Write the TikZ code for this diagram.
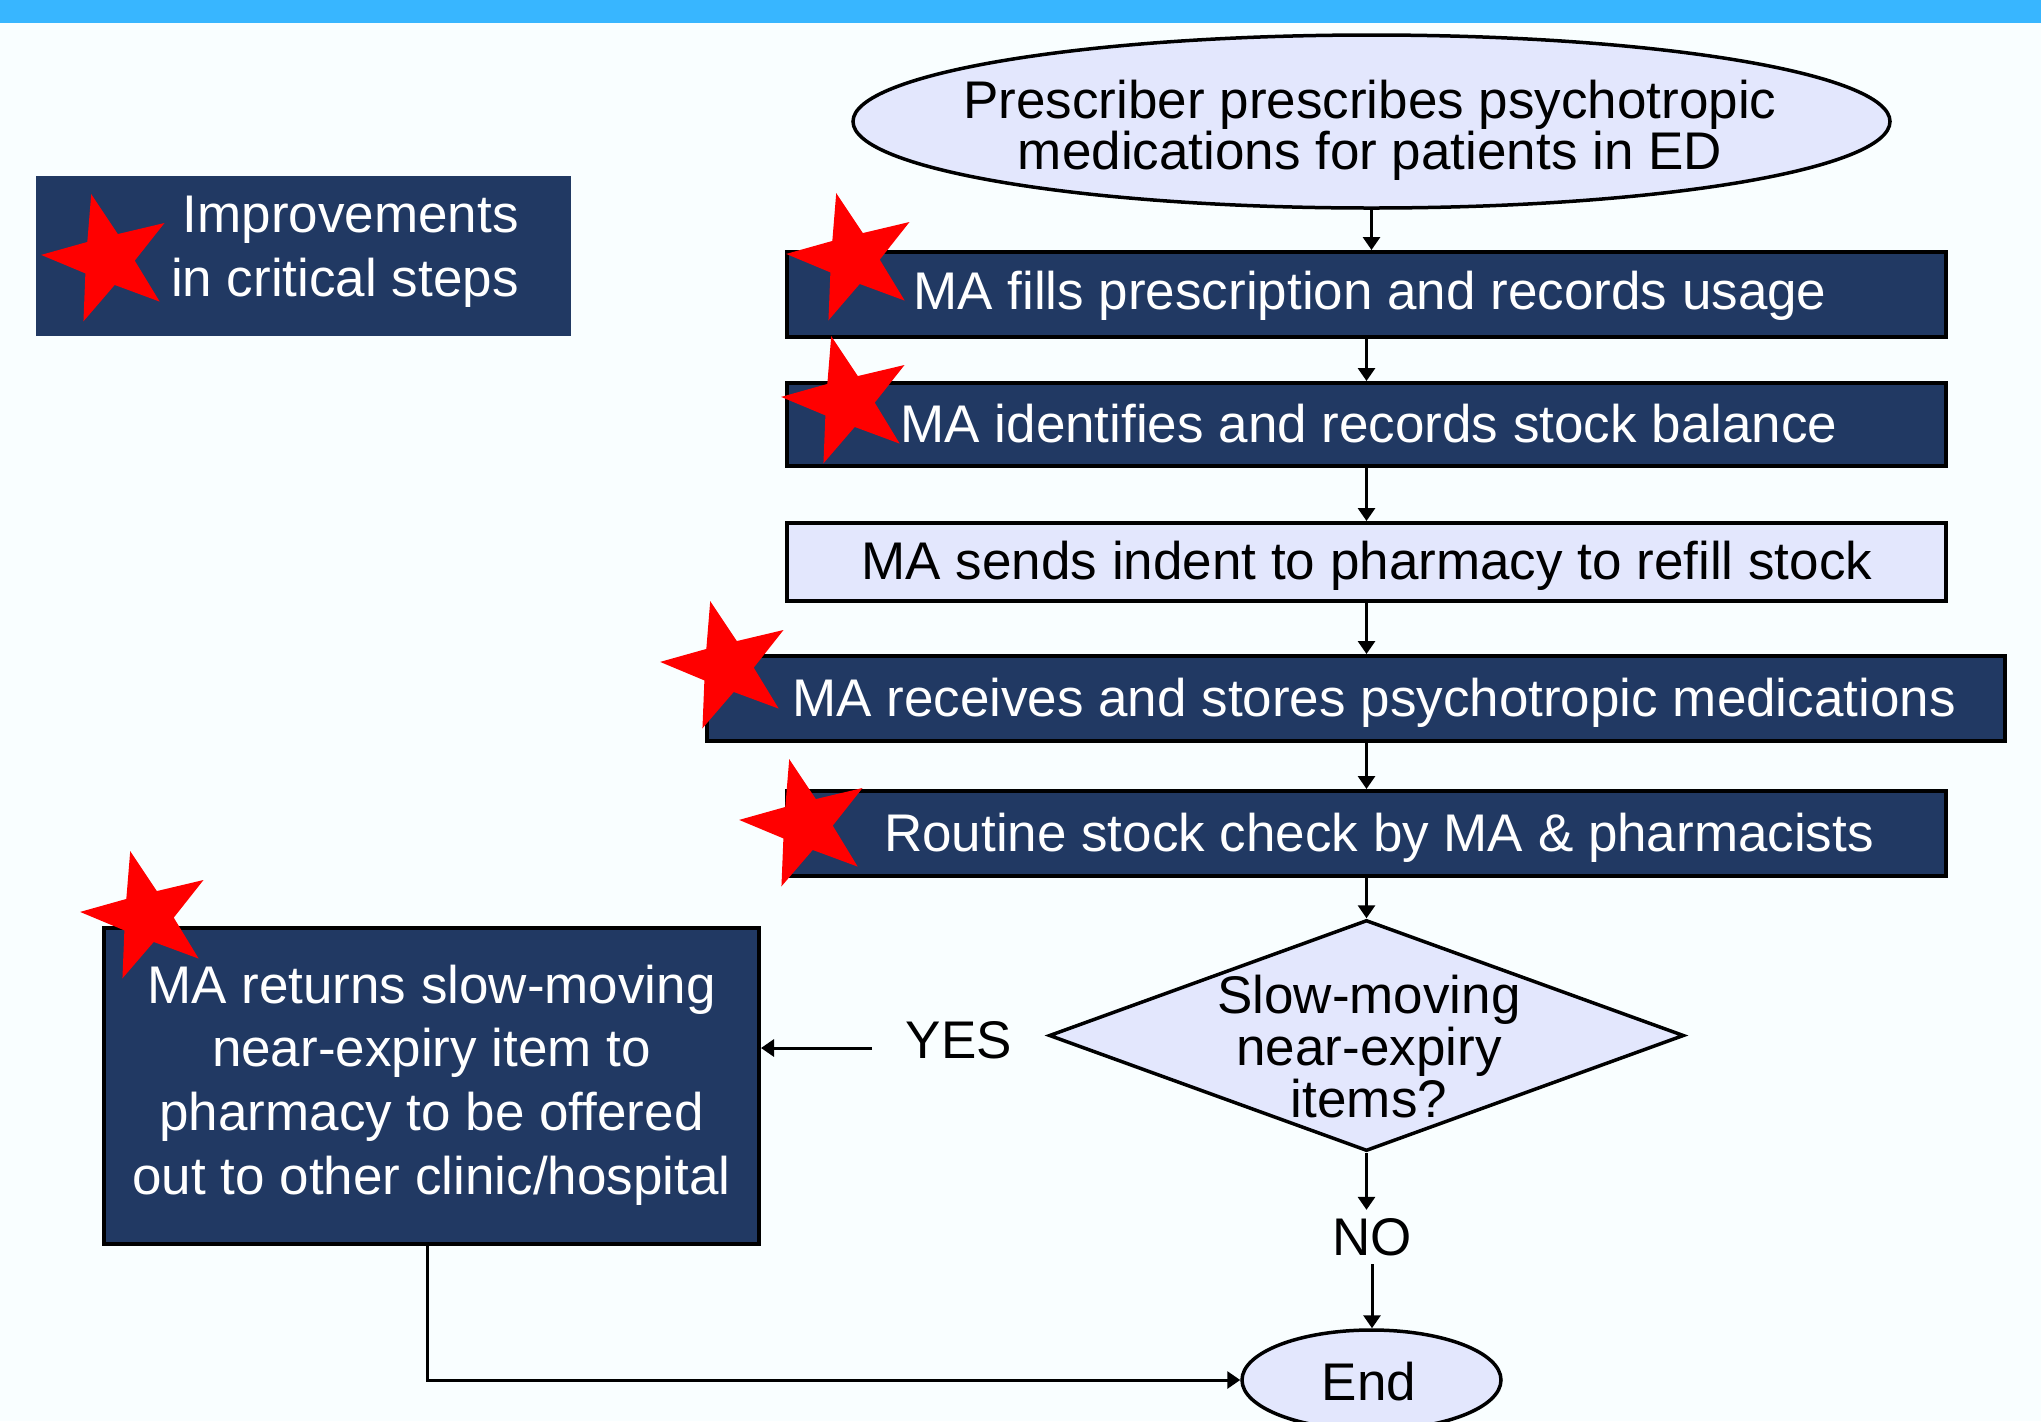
\documentclass[tikz,border=0pt]{standalone}
\usepackage{fontspec}
\setmainfont{Liberation Sans}
\usetikzlibrary{shapes.geometric,arrows.meta}
\definecolor{barblue}{RGB}{56,182,255}
\definecolor{bgc}{RGB}{249,254,255}
\definecolor{navy}{RGB}{33,57,99}
\definecolor{lav}{RGB}{227,231,253}
\begin{document}
\begin{tikzpicture}[x=0.5pt,y=-0.5pt,
  txt/.style={font=\fontsize{26.5}{31.9}\selectfont, align=center, inner sep=0pt},
  darkbox/.style={rectangle, draw=black, line width=2pt, fill=navy, text=white, txt, minimum width=579.5pt, minimum height=42.5pt},
  lightbox/.style={rectangle, draw=black, line width=2pt, fill=lav, txt, minimum width=579.5pt, minimum height=39pt},
  lightshape/.style={draw=black, line width=1.75pt, fill=lav, inner sep=0pt},
  redstar/.style={star, star points=5, star point ratio=2.5, fill=red, draw=none, inner sep=0pt, minimum size=67pt, rotate=14.5},
  arr/.style={-{Triangle[length=6.5pt,width=8.5pt]}, line width=1.5pt}]
\useasboundingbox (0,0) rectangle (2041,1421);
\fill[bgc] (0,0) rectangle (2041,1421);
\fill[barblue] (0,0) rectangle (2041,23);

% legend
\node[rectangle, fill=navy, minimum width=267.5pt, minimum height=80pt, inner sep=0pt] (leg) at (303.5,256) {};
\node[txt, text=white, align=right, anchor=east] (legt) at (519,252) {Improvements\\in critical steps};

% start ellipse
\node[lightshape, ellipse, minimum width=518.5pt, minimum height=86.5pt] (ell) at (1371.5,121.5) {};
\node[txt, font=\fontsize{26.5}{25.4}\selectfont] (ellt) at (1370,130.5) {Prescriber prescribes psychotropic\\medications for patients in ED};

% process boxes
\node[darkbox] (b1) at (1366.5,294.5) {};
\node[txt, text=white] (b1t) at (1370,296) {MA fills prescription and records usage};
\node[darkbox, minimum height=41.5pt] (b2) at (1366.5,424.5) {};
\node[txt, text=white] (b2t) at (1369,423.5) {MA identifies and records stock balance};
\node[lightbox] (b3) at (1366.5,562) {};
\node[txt] (b3t) at (1367,566) {MA sends indent to pharmacy to refill stock};
\node[darkbox, minimum width=649pt] (b4) at (1356,698.5) {};
\node[txt, text=white] (b4t) at (1374,702.5) {MA receives and stores psychotropic medications};
\node[darkbox] (b5) at (1366.5,833.5) {};
\node[txt, text=white] (b5t) at (1379,837.5) {Routine stock check by MA \& pharmacists};

% decision
\node[lightshape, diamond, minimum width=317.5pt, minimum height=115.5pt] (dia) at (1366.5,1035.5) {};
\node[txt, font=\fontsize{26.5}{26}\selectfont] (diat) at (1369,1047) {Slow-moving\\near-expiry\\items?};

% left box
\node[darkbox, minimum width=327.5pt, minimum height=158pt] (lb) at (431.5,1086) {};
\node[txt, text=white] (lbt) at (431.5,1085) {MA returns slow-moving\\near-expiry item to\\pharmacy to be offered\\out to other clinic/hospital};

% labels
\node[txt] (yes) at (959,1040) {YES};
\node[txt, inner sep=4pt] (no) at (1372,1237) {NO};
\coordinate (yesstart) at (872,1048);
\coordinate (lbout) at (427,1244);

% end
\node[lightshape, ellipse, minimum width=129.5pt, minimum height=50pt] (end) at (1371.5,1380) {};
\node[txt] (endt) at (1369,1382) {End};

% connectors
\draw[arr] (ell.south) -- (ell.south |- b1.north);
\draw[arr] (b1.south) -- (b2.north);
\draw[arr] (b2.south) -- (b3.north);
\draw[arr] (b3.south) -- (b3.south |- b4.north);
\draw[arr] (b5.north |- b4.south) -- (b5.north);
\draw[arr] (b5.south) -- (dia.north);
\draw[arr] (dia.south) -- (dia.south |- no.north);
\draw[arr] (no.south) -- (no.south |- end.north);
\draw[arr] (yesstart) -- (yesstart -| lb.east);
\draw[arr] (lbout) |- (end.west);

% stars
\node[redstar] (s0) at (108,259) {};
\node[redstar] (s1) at (853,258) {};
\node[redstar] (s2) at (848,401) {};
\node[redstar] (s4) at (727,666) {};
\node[redstar] (s5) at (806,824) {};
\node[redstar] (s6) at (147,916) {};
\end{tikzpicture}
\end{document}
